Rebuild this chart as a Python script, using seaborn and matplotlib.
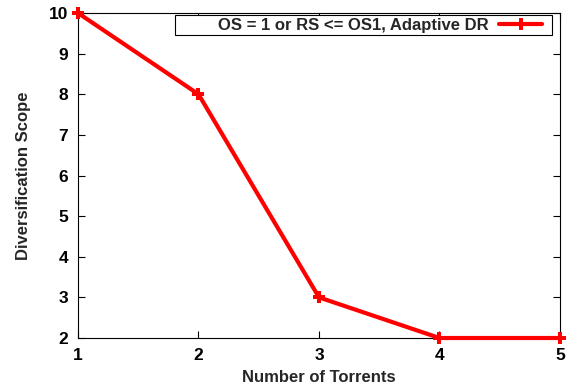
import matplotlib
matplotlib.use("Agg")
import matplotlib.pyplot as plt
from matplotlib.patches import Rectangle
import seaborn as sns
import pandas as pd

torrents = [1, 2, 3, 4, 5]
scope = [10, 8, 3, 2, 2]
series_label = "OS = 1 or RS <= OS1, Adaptive DR"

sns.set_style("ticks")
plt.rcParams['font.family'] = ['Liberation Sans', 'DejaVu Sans']
plt.rcParams['font.weight'] = 'bold'

df = pd.DataFrame({"x": torrents, "y": scope, "s": series_label})

fig = plt.figure(figsize=(5.71, 3.87), dpi=100)
ax = fig.add_axes([0.1366, 0.1266, 0.9807 - 0.1366, 0.9664 - 0.1266])
sns.lineplot(data=df, x="x", y="y", hue="s", palette=["#ff0000"], ax=ax,
             linewidth=3, marker="P", markersize=9, markeredgewidth=0,
             legend=True, clip_on=False, zorder=5)
ax.set_xlim(1, 5)
ax.set_ylim(2, 10)
ax.set_xticks(torrents)
ax.set_yticks(range(2, 11))
ax.tick_params(direction="in", top=True, right=True, length=5, width=0.8,
               labelsize=12.5, pad=7, colors="black")
for lab in ax.get_xticklabels() + ax.get_yticklabels():
    lab.set_fontweight("bold")
for s in ax.spines.values():
    s.set_linewidth(0.8)
    s.set_color("black")
ax.set_xlabel("Number of Torrents", fontsize=12, fontweight="bold", labelpad=5)
ax.set_ylabel("Diversification Scope", fontsize=12, fontweight="bold", labelpad=13)

# legend box (gnuplot style: wide frame, text right-aligned before sample)
x0 = (175 - 78) / 482
x1 = (552 - 78) / 482
y1 = (338 - 15) / 325
y0 = (338 - 35) / 325
ax.add_patch(Rectangle((x0, y0), x1 - x0, y1 - y0, transform=ax.transAxes,
                       facecolor="white", edgecolor="black", linewidth=0.8,
                       zorder=6))
h, l = ax.get_legend_handles_labels()
leg = ax.legend(h, l, loc="center right", markerfirst=False, frameon=False,
                prop={"weight": "bold", "size": 12}, handlelength=2.6,
                borderpad=0.0, borderaxespad=0.0, handletextpad=0.6,
                bbox_to_anchor=(x1 - 0.02, (y0 + y1) / 2))
leg.set_zorder(7)
fig.savefig("out.png", dpi=100)
